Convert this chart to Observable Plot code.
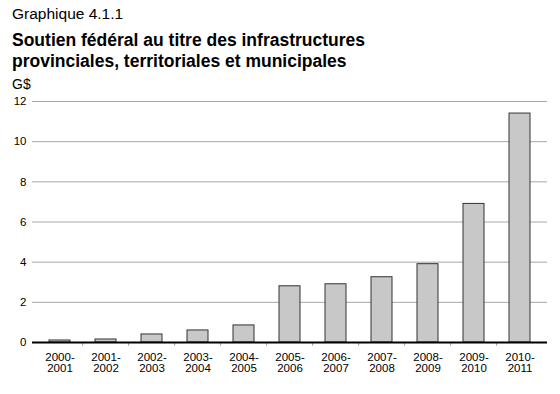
<!DOCTYPE html>
<html><head><meta charset="utf-8">
<script src="https://cdn.jsdelivr.net/npm/d3@7"></script>
<script src="https://cdn.jsdelivr.net/npm/@observablehq/plot@0.6"></script>
<style>
body{margin:0;background:#fff;font-family:"Liberation Sans",Arial,sans-serif;}
#wrap{position:relative;width:560px;height:394px;overflow:hidden;background:#fff}
.t{position:absolute;left:12px;white-space:nowrap;color:#000}
</style></head><body>
<div id="wrap">
<div class="t" style="top:5px;font-size:15.5px">Graphique 4.1.1</div>
<div class="t" style="top:30px;font-size:17.5px;font-weight:bold;line-height:21px">Soutien fédéral au titre des infrastructures<br>provinciales, territoriales et municipales</div>
<div class="t" style="top:76px;font-size:14px">G$</div>
<div id="chart" style="position:absolute;left:0;top:92px"></div>
</div>
<script>
const years = ["2000-2001","2001-2002","2002-2003","2003-2004","2004-2005","2005-2006","2006-2007","2007-2008","2008-2009","2009-2010","2010-2011"];
const values = [0.1, 0.15, 0.4, 0.6, 0.85, 2.8, 2.9, 3.25, 3.9, 6.9, 11.4];
const yTicks = [0, 2, 4, 6, 8, 10, 12];

const data = years.map((y, i) => ({year: y, value: values[i]}));
const W = 560, ML = 32, MR = 13;
const step = (W - ML - MR) / years.length;

const plot = Plot.plot({
  width: W, height: 302,
  marginLeft: ML, marginRight: MR, marginTop: 9, marginBottom: 52,
  style: {fontFamily: "Liberation Sans, Arial, sans-serif", fontSize: "11.5px", color: "#000", background: "#fff"},
  x: {domain: years, paddingInner: 0.55, paddingOuter: 0.275, label: null},
  y: {domain: [0, 12], label: null},
  marks: [
    Plot.gridY(yTicks.filter(d => d > 0), {stroke: "#a8a8a8", strokeOpacity: 1, strokeWidth: 1}),
    Plot.axisY(yTicks, {tickSize: 0, tickPadding: 6, label: null}),
    Plot.axisX({tickSize: 0, tickPadding: 11, lineHeight: 0.92, tickFormat: d => d.replace("-", "-\n"), label: null}),
    Plot.barY(data, {x: "year", y: "value", fill: "#c8c8c8", stroke: "#333", strokeWidth: 1}),
    Plot.ruleX(years.slice(1), {x: d => d, y1: 0, y2: -0.18, dx: -step / 2, stroke: "#999", strokeWidth: 1}),
    Plot.ruleY([0], {stroke: "#000", strokeWidth: 2})
  ]
});
document.getElementById("chart").appendChild(plot);
</script>
</body></html>
